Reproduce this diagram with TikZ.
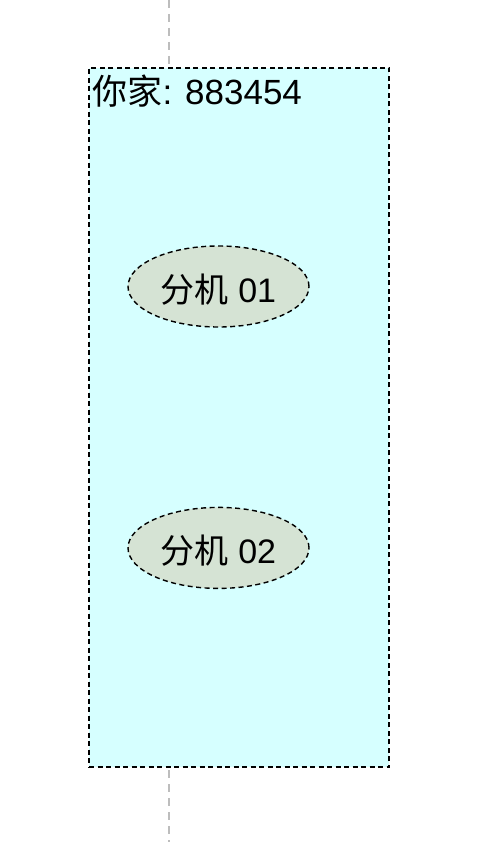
\documentclass[tikz,border=0pt]{standalone}
\usepackage{fontspec}
\setmainfont{Liberation Sans}
\newfontfamily\cjk{Noto Sans CJK SC}
\usetikzlibrary{shapes,
                positioning}
\definecolor{homecyan}{HTML}{D6FFFF}
\definecolor{extgreen}{HTML}{D5E3D4}
\definecolor{lifegray}{HTML}{BDBDBD}
\tikzset{house/.style =
   {rectangle,
    draw,
    line width=1.4pt,
    dash pattern=on 5pt off 3.5pt,
    fill=homecyan,
    minimum width=300pt,
    minimum height=699pt,
    inner sep=0pt}}
\tikzset{extension/.style =
   {ellipse,
    draw,
    line width=1.4pt,
    dash pattern=on 5pt off 3.5pt,
    fill=extgreen,
    text centered,
    font=\fontsize{34}{40}\selectfont,
    text height=31pt,
    text depth=0pt,
    minimum width=181pt,
    minimum height=81pt,
    inner sep=0pt}}
\tikzset{lifeline/.style = {draw, lifegray, line width=1.4pt, dash pattern=on 8pt off 6pt}}

\begin{document}
\begin{tikzpicture}[x=1pt, y=-1pt]
    \useasboundingbox (0,0) rectangle (500,842);

    \coordinate (top) at (169,0);
    \coordinate (bottom) at (169,842);
    \draw [lifeline] (top) -- (bottom);

    \node [house] (home) at (239,417.5) {};

    \node [anchor=base west,
           inner sep=0pt,
           font=\fontsize{35}{40}\selectfont,
           xshift=4pt,
           yshift=-37pt] (title) at (home.north west) {{\cjk 你家}: 883454};

    \node [extension] (ext1) at (218.5,286.5) {{\cjk 分机} 01};

    \node [extension,
           node distance = 179pt,
           below = of ext1] (ext2) {{\cjk 分机} 02};

\end{tikzpicture}
\end{document}
